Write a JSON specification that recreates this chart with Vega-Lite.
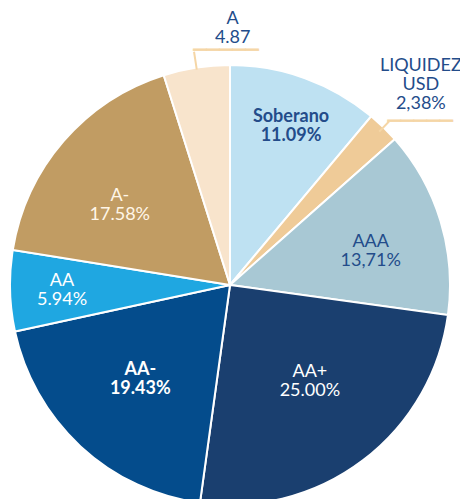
{
  "$schema": "https://vega.github.io/schema/vega-lite/v6.json",
  "width": 460,
  "height": 570,
  "padding": 0,
  "autosize": "none",
  "background": "white",
  "view": {"stroke": null},
  "data": {
    "values": [
      {"i": 1, "cat": "Soberano", "value": 11.09, "label": ["Soberano", "11.09%"]},
      {"i": 2, "cat": "LIQUIDEZ USD", "value": 2.38, "label": ["LIQUIDEZ", "USD", "2,38%"]},
      {"i": 3, "cat": "AAA", "value": 13.71, "label": ["AAA", "13,71%"]},
      {"i": 4, "cat": "AA+", "value": 25.00, "label": ["AA+", "25.00%"]},
      {"i": 5, "cat": "AA-", "value": 19.43, "label": ["AA-", "19.43%"]},
      {"i": 6, "cat": "AA", "value": 5.94, "label": ["AA", "5.94%"]},
      {"i": 7, "cat": "A-", "value": 17.58, "label": ["A-", "17.58%"]},
      {"i": 8, "cat": "A", "value": 4.87, "label": ["A", "4.87"]}
    ]
  },
  "transform": [
    {"window": [{"op": "sum", "field": "value", "as": "cum"}], "sort": [{"field": "i"}]},
    {"calculate": "datum.cum - datum.value / 2", "as": "mid"}
  ],
  "layer": [
    {
      "mark": {"type": "arc", "outerRadius": 220, "stroke": "white", "strokeWidth": 2},
      "encoding": {
        "theta": {"field": "value", "type": "quantitative", "stack": true, "scale": {"domain": [0, 100]}},
        "order": {"field": "i", "type": "quantitative"},
        "color": {
          "field": "cat",
          "type": "nominal",
          "scale": {
            "domain": ["Soberano", "LIQUIDEZ USD", "AAA", "AA+", "AA-", "AA", "A-", "A"],
            "range": ["#BEE1F2", "#EFCB98", "#A8C8D4", "#1A3F6F", "#044C8C", "#1FA7E1", "#C19C63", "#F8E4CC"]
          },
          "legend": null
        }
      }
    },
    {
      "transform": [{"filter": "datum.cat === 'A' || datum.cat === 'LIQUIDEZ USD'"}],
      "mark": {"type": "arc", "filled": false, "stroke": "#F5D6A6", "strokeWidth": 2},
      "encoding": {
        "theta": {"field": "mid", "type": "quantitative", "stack": null, "scale": {"domain": [0, 100]}},
        "theta2": {"field": "mid"},
        "radius": {"value": {"expr": "datum.cat === 'A' ? 236 : 228"}},
        "radius2": {"value": {"expr": "datum.cat === 'A' ? 218 : 214"}}
      }
    },
    {
      "transform": [{"filter": "datum.cat === 'A' || datum.cat === 'LIQUIDEZ USD'"}],
      "mark": {"type": "text", "font": "DejaVu Sans", "fontSize": 21.6, "text": "─────", "color": "#F5D6A6", "stroke": "#F5D6A6", "strokeWidth": 0.6, "dx": 32, "dy": 0, "baseline": "middle", "align": "center"},
      "encoding": {
        "theta": {"field": "mid", "type": "quantitative", "stack": null, "scale": {"domain": [0, 100]}},
        "radius": {"value": {"expr": "datum.cat === 'A' ? 237 : 227"}}
      }
    },
    {
      "mark": {
        "type": "text",
        "font": "Lato",
        "fontSize": 18,
        "lineHeight": 19,
        "baseline": "middle",
        "align": "center",
        "fontWeight": {"expr": "datum.cat === 'Soberano' || datum.cat === 'AA-' ? 'bold' : 'normal'"},
        "dx": {"expr": "datum.cat === 'Soberano' ? 3 : datum.cat === 'LIQUIDEZ USD' ? -3 : datum.cat === 'AA+' ? 5 : datum.cat === 'AA-' ? -2 : datum.cat === 'A-' ? -5 : datum.cat === 'A' ? 42 : 0"},
        "dy": {"expr": "datum.cat === 'Soberano' ? -8 : datum.cat === 'LIQUIDEZ USD' ? -20 : datum.cat === 'AAA' ? 0 : datum.cat === 'AA+' ? -12 : datum.cat === 'AA-' ? -10 : datum.cat === 'AA' ? -8 : datum.cat === 'A-' ? 2 : -11"}
      },
      "encoding": {
        "theta": {"field": "mid", "type": "quantitative", "stack": null, "scale": {"domain": [0, 100]}},
        "radius": {"value": {"expr": "datum.cat === 'Soberano' ? 170 : datum.cat === 'LIQUIDEZ USD' ? 278 : datum.cat === 'AAA' ? 147 : datum.cat === 'AA+' ? 124 : datum.cat === 'AA-' ? 129 : datum.cat === 'AA' ? 168 : datum.cat === 'A-' ? 139 : 258"}},
        "text": {"field": "label"},
        "color": {
          "condition": [
            {"test": "datum.cat === 'A-'", "value": "#FFF6E8"},
            {"test": "datum.cat === 'AA+' || datum.cat === 'AA-' || datum.cat === 'AA'", "value": "#FFFFFF"}
          ],
          "value": "#234C8A"
        }
      }
    }
  ]
}
